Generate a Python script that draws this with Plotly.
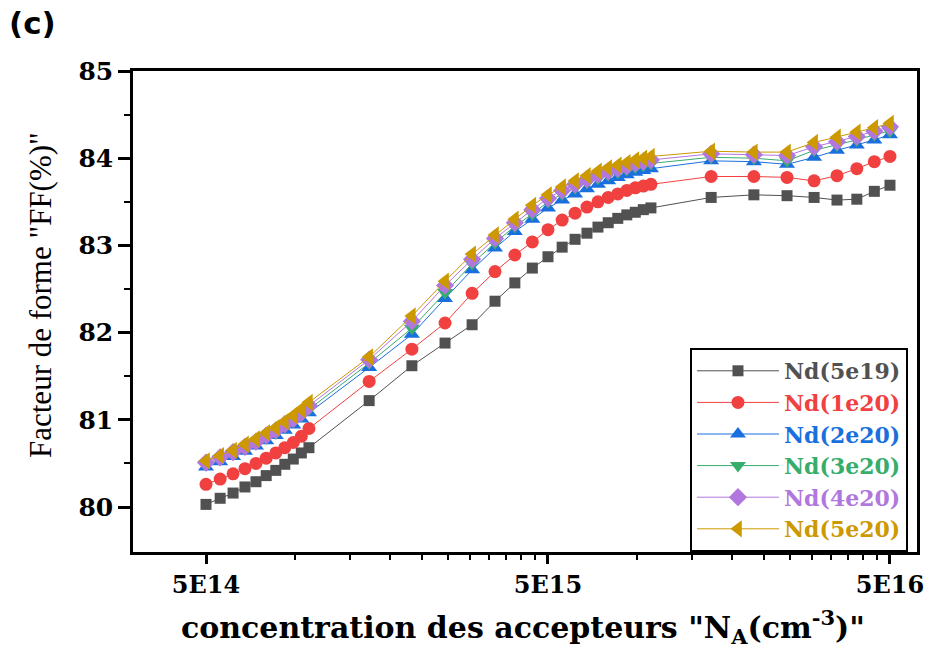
import plotly.graph_objects as go

# Acceptor concentration N_A (cm^-3)
na = [5e14, 5.5e14, 6e14, 6.5e14, 7e14, 7.5e14, 8e14, 8.5e14, 9e14, 9.5e14, 1e15,
      1.5e15, 2e15, 2.5e15, 3e15, 3.5e15, 4e15, 4.5e15,
      5e15, 5.5e15, 6e15, 6.5e15, 7e15, 7.5e15, 8e15, 8.5e15, 9e15, 9.5e15, 1e16,
      1.5e16, 2e16, 2.5e16, 3e16, 3.5e16, 4e16, 4.5e16, 5e16]

# Fill factor FF (%) for each donor doping Nd
ff_5e19 = [80.03, 80.10, 80.16, 80.23, 80.29, 80.36, 80.42, 80.49, 80.55, 80.62, 80.68,
           81.22, 81.62, 81.88, 82.09, 82.36, 82.57, 82.74,
           82.87, 82.98, 83.07, 83.14, 83.21, 83.26, 83.31, 83.35, 83.38, 83.41, 83.43,
           83.55, 83.58, 83.57, 83.55, 83.52, 83.53, 83.62, 83.69]
ff_1e20 = [80.26, 80.32, 80.38, 80.44, 80.50, 80.56, 80.62, 80.68, 80.74, 80.81, 80.90,
           81.44, 81.81, 82.11, 82.45, 82.70, 82.89, 83.04,
           83.18, 83.29, 83.37, 83.44, 83.50, 83.55, 83.59, 83.63, 83.66, 83.68, 83.70,
           83.79, 83.79, 83.78, 83.74, 83.80, 83.88, 83.96, 84.02]
ff_2e20 = [80.46, 80.52, 80.58, 80.64, 80.70, 80.76, 80.82, 80.88, 80.94, 81.01, 81.08,
           81.60, 81.98, 82.39, 82.72, 82.97, 83.16, 83.30,
           83.43, 83.52, 83.59, 83.65, 83.70, 83.74, 83.78, 83.81, 83.84, 83.86, 83.88,
           83.97, 83.96, 83.93, 84.01, 84.09, 84.15, 84.21, 84.27]
ff_3e20 = [80.49, 80.55, 80.61, 80.67, 80.73, 80.79, 80.85, 80.92, 80.98, 81.05, 81.12,
           81.65, 82.05, 82.46, 82.79, 83.03, 83.22, 83.36,
           83.50, 83.59, 83.66, 83.72, 83.77, 83.81, 83.84, 83.87, 83.90, 83.92, 83.94,
           84.01, 84.00, 83.97, 84.09, 84.15, 84.21, 84.27, 84.31]
ff_4e20 = [80.51, 80.57, 80.63, 80.69, 80.75, 80.82, 80.88, 80.95, 81.01, 81.08, 81.16,
           81.69, 82.13, 82.54, 82.84, 83.08, 83.26, 83.41,
           83.54, 83.63, 83.70, 83.76, 83.81, 83.85, 83.88, 83.91, 83.94, 83.96, 83.98,
           84.05, 84.04, 84.03, 84.13, 84.19, 84.25, 84.31, 84.36]
ff_5e20 = [80.53, 80.59, 80.65, 80.72, 80.78, 80.85, 80.91, 80.98, 81.05, 81.12, 81.20,
           81.72, 82.19, 82.59, 82.90, 83.12, 83.30, 83.46,
           83.58, 83.67, 83.74, 83.80, 83.85, 83.89, 83.92, 83.95, 83.98, 84.00, 84.02,
           84.08, 84.07, 84.07, 84.18, 84.24, 84.30, 84.35, 84.40]

series_names = ["Nd(5e19)", "Nd(1e20)", "Nd(2e20)", "Nd(3e20)", "Nd(4e20)", "Nd(5e20)"]
series_values = [ff_5e19, ff_1e20, ff_2e20, ff_3e20, ff_4e20, ff_5e20]
colors = ["#515151", "#F14040", "#1A6FDF", "#37AD6B", "#B177DE", "#CC9900"]
symbols = ["square", "circle", "triangle-up", "triangle-down", "diamond", "triangle-left"]
sizes = [11, 13, 14, 14, 14, 15]

x_ticks = [5e14, 5e15, 5e16]
x_tick_text = ["5E14", "5E15", "5E16"]
y_ticks = [80, 81, 82, 83, 84, 85]

# minor ticks: 10 per decade, evenly spaced on the linear scale
x_minor = []
for start in (5e14, 5e15):
    step = (10 * start - start) / 11
    x_minor += [start + k * step for k in range(1, 11)]
y_minor = [80.5, 81.5, 82.5, 83.5, 84.5]

serif_bold = dict(family="DejaVu Serif", weight="bold", color="black")

# plot area in pixels (used to place the axis titles)
L, R, T, B = 133, 917, 71, 552
W, H = R - L, B - T

fig = go.Figure()
for name, vals, col, sym, sz in zip(series_names, series_values, colors, symbols, sizes):
    fig.add_trace(go.Scatter(
        x=na, y=vals, mode="lines+markers",
        name=f'<span style="color:{col}">{name}</span>',
        line=dict(color=col, width=1),
        marker=dict(symbol=sym, size=sz, color=col, line=dict(width=0)),
    ))

fig.update_layout(
    width=929, height=648,
    margin=dict(l=L, r=929 - R, t=T, b=648 - B),
    paper_bgcolor="white", plot_bgcolor="white",
    title=dict(text="(c)", x=9 / 929, xref="container", xanchor="left",
               y=1 - 23 / 648, yref="container", yanchor="middle",
               font=dict(family="DejaVu Sans", weight="bold", size=31, color="black")),
    legend=dict(
        x=0.9885, y=0.0, xanchor="right", yanchor="bottom",
        bgcolor="white", bordercolor="black", borderwidth=2,
        font=dict(family="DejaVu Serif", weight="bold", size=22),
        itemwidth=82, tracegroupgap=0,
    ),
    showlegend=True,
    annotations=[
        dict(text='Facteur de forme "FF(%)"', textangle=-90,
             xref="paper", yref="paper", x=(40 - L) / W, y=(B - 295) / H,
             xanchor="center", yanchor="middle", showarrow=False,
             font=dict(family="Liberation Serif", size=31, color="black")),
        dict(text='concentration des accepteurs "N<sub>A</sub>(cm<sup>-3</sup>)"',
             xref="paper", yref="paper", x=(523 - L) / W, y=(B - 627) / H,
             xanchor="center", yanchor="middle", showarrow=False,
             font=dict(size=30, **serif_bold)),
    ],
)

fig.update_xaxes(
    type="log", range=[14.4855, 16.778], automargin=False,
    tickvals=x_ticks, ticktext=x_tick_text,
    ticks="outside", ticklen=9, tickwidth=2.5, tickcolor="black",
    minor=dict(tickvals=x_minor, ticks="outside", ticklen=5, tickwidth=2, tickcolor="black", showgrid=False),
    showline=True, linecolor="black", linewidth=2.5, mirror=True,
    showgrid=False, zeroline=False,
    tickfont=dict(size=24, **serif_bold),
)
fig.update_yaxes(
    range=[79.484, 85], automargin=False,
    tickvals=y_ticks,
    ticks="outside", ticklen=12, tickwidth=2.5, tickcolor="black",
    minor=dict(tickvals=y_minor, ticks="outside", ticklen=6, tickwidth=2, tickcolor="black", showgrid=False),
    showline=True, linecolor="black", linewidth=2.5, mirror=True,
    showgrid=False, zeroline=False,
    tickfont=dict(size=25, **serif_bold),
)

fig.write_html("out.html")
